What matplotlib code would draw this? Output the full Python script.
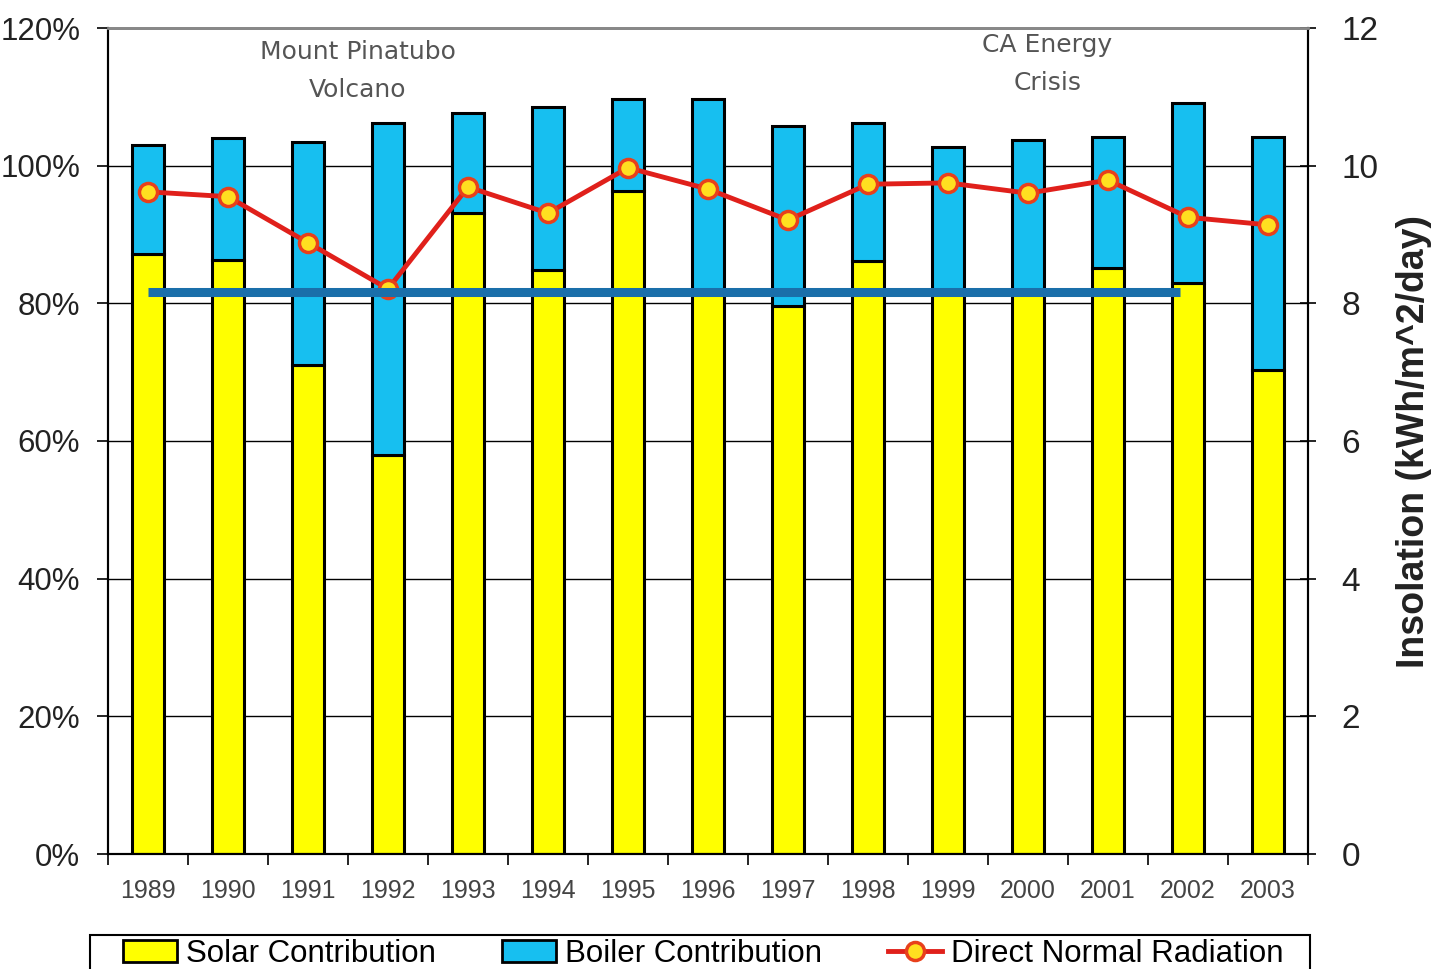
import numpy as np
import matplotlib
matplotlib.use('Agg')
import matplotlib.pyplot as plt
from matplotlib.patches import Patch, Rectangle
from matplotlib.lines import Line2D

plt.rcParams['font.family'] = ['Liberation Sans', 'DejaVu Sans']

##############################
# Data
years = ['1989', '1990', '1991', '1992', '1993', '1994', '1995', '1996',
         '1997', '1998', '1999', '2000', '2001', '2002', '2003']
solar = [87.2, 86.3, 71.0, 58.0, 93.1, 84.8, 96.3, 81.3,
         79.6, 86.2, 81.3, 81.3, 85.1, 83.0, 70.3]
boiler = [15.8, 17.7, 32.4, 48.2, 14.6, 23.7, 13.4, 28.4,
          26.2, 20.0, 21.4, 22.4, 19.1, 26.1, 33.9]
radiation = [9.62, 9.55, 8.88, 8.21, 9.69, 9.31, 9.97, 9.66,
             9.21, 9.73, 9.75, 9.60, 9.79, 9.25, 9.14]
avg_solar = 81.6
avg_span = (0, 12.9)

W, H = 1431, 969

##############################
# Figure
fig = plt.figure(figsize=(W/100, H/100), dpi=100)
ax = fig.add_axes([108/W, 1-854/H, 1200/W, 826/H])
ax2 = ax.twinx()

x = np.arange(len(years))
ax.set_axisbelow(True)
ax.yaxis.grid(True, color='black', linewidth=1.0)
ax.bar(x, solar, width=0.4, color='#FFFF00', edgecolor='black', linewidth=2.2, zorder=2)
ax.bar(x, boiler, width=0.4, bottom=solar, color='#17BFF0', edgecolor='black', linewidth=2.2, zorder=2)

ax.set_xlim(-0.5, len(years)-0.5)
ax.set_ylim(0, 120)
ax.set_yticks(np.arange(0, 121, 20))
ax.set_yticklabels(['%d%%' % v for v in range(0, 121, 20)], fontsize=22.5, color='#222222')
ax.set_xticks(x)
ax.set_xticklabels(years, fontsize=18, color='#444444')
ax.set_xticks(np.arange(-0.5, len(years), 1.0), minor=True)
ax.tick_params(axis='x', which='major', length=0, pad=18)
ax.tick_params(axis='x', which='minor', length=8, width=1.2, direction='out')
ax.tick_params(axis='y', length=8, width=1.2, direction='out', pad=12)

# Radiation on the right axis
ax2.plot(x, radiation, '-o', color='#E0201B', linewidth=3.5,
         markersize=13, markerfacecolor='#FFE020', markeredgecolor='#E8401B',
         markeredgewidth=2.5, zorder=3)
ax2.set_ylim(0, 12)
ax2.set_yticks(np.arange(0, 13, 2))
ax2.tick_params(axis='y', labelsize=24, labelcolor='#222222', length=12, width=1.2,
                direction='inout', pad=18)
ax2.set_ylabel('Insolation (kWh/m^2/day)', fontsize=27, fontweight='bold', labelpad=13,
               color='#222222')

# Average solar line
ax2.plot(avg_span, [avg_solar*0.1, avg_solar*0.1], color='#1A6FAA', linewidth=6.5,
         solid_capstyle='butt', zorder=4)

for a in (ax, ax2):
    a.spines['top'].set_color('#888888')
    a.spines['top'].set_linewidth(2)
    a.spines['left'].set_linewidth(1.5)
    a.spines['right'].set_linewidth(1.5)
    a.spines['bottom'].set_linewidth(1.5)

# Annotations
ax.text(2.625, 113.75, 'Mount Pinatubo\nVolcano', ha='center', va='center',
        fontsize=18, color='#555555', family='DejaVu Sans', linespacing=1.75)
ax.text(11.24, 114.8, 'CA Energy\nCrisis', ha='center', va='center',
        fontsize=18, color='#555555', family='DejaVu Sans', linespacing=1.75)

# Legend with its own frame box
fig.patches.append(Rectangle((90/W, -0.01), 1220/W, (H-935)/H + 0.01,
                             transform=fig.transFigure, facecolor='white',
                             edgecolor='black', linewidth=1.5, zorder=0))
handles = [Patch(facecolor='#FFFF00', edgecolor='black', linewidth=2),
           Patch(facecolor='#17BFF0', edgecolor='black', linewidth=2),
           Line2D([], [], color='#E0201B', linewidth=3.5, marker='o', markersize=13,
                  markerfacecolor='#FFE020', markeredgecolor='#E8401B', markeredgewidth=2.5)]
labels = ['Solar Contribution', 'Boiler Contribution', 'Direct Normal Radiation']
leg = fig.legend(handles, labels, loc='center left', ncol=3,
                 bbox_to_anchor=(123/W, 1-954/H), borderaxespad=0, borderpad=0,
                 fontsize=22.5, frameon=False, handlelength=1.73, handletextpad=0.3,
                 columnspacing=2.1)

fig.savefig('out.png', dpi=100)
